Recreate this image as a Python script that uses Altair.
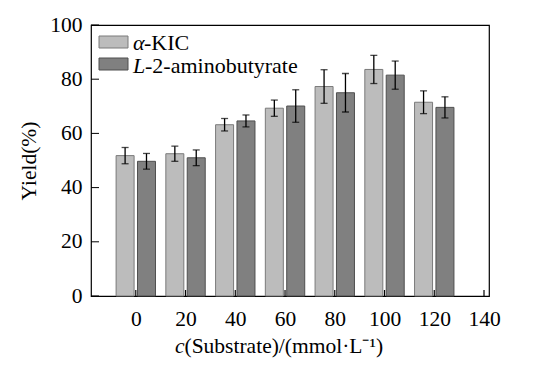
import altair as alt
import pandas as pd

conc = [0, 20, 40, 60, 80, 100, 120]
kic = [51.8, 52.5, 63.2, 69.3, 77.3, 83.6, 71.5]
kic_err = [3.0, 2.8, 2.3, 3.0, 6.2, 5.2, 4.2]
abu = [49.7, 51.0, 64.6, 70.1, 75.0, 81.5, 69.6]
abu_err = [2.9, 2.9, 2.2, 6.0, 7.1, 5.2, 3.9]
series_names = ["α-KIC", "L-2-aminobutyrate"]
x_ticks = [0, 20, 40, 60, 80, 100, 120, 140]
y_ticks = [0, 20, 40, 60, 80, 100]

rows = []
for c, v, e in zip(conc, kic, kic_err):
    rows.append({"conc": c, "series": series_names[0], "value": v, "err": e, "off": -4.3})
for c, v, e in zip(conc, abu, abu_err):
    rows.append({"conc": c, "series": series_names[1], "value": v, "err": e, "off": 4.3})
df = pd.DataFrame(rows)

W, H = 398, 271
FONT = "Liberation Serif"
FS = 21.5

xscale = alt.Scale(domain=[-16, 140], nice=False, zero=False)
yscale = alt.Scale(domain=[0, 100], nice=False)
fill_scale = alt.Scale(domain=series_names, range=["#bcbcbc", "#808080"])
stroke_scale = alt.Scale(domain=series_names, range=["#7a7a7a", "#4f4f4f"])

base = alt.Chart(df).transform_calculate(
    xp="datum.conc + datum.off",
    lo="datum.value - datum.err",
    hi="datum.value + datum.err",
)

bars = base.mark_bar(size=18, strokeWidth=1).encode(
    x=alt.X("xp:Q", scale=xscale,
            axis=alt.Axis(values=x_ticks, title=None, ticks=False, domain=False, grid=False,
                          labelFont=FONT, labelFontSize=FS, labelColor="black",
                          labelPadding=12, format="d")),
    y=alt.Y("value:Q", scale=yscale,
            axis=alt.Axis(values=y_ticks, title="Yield(%)", ticks=False, domain=False, grid=False,
                          labelFont=FONT, labelFontSize=FS, labelColor="black",
                          labelPadding=9, titleFont=FONT, titleFontSize=FS,
                          titleFontWeight="normal", titleColor="black", titlePadding=9)),
    fill=alt.Fill("series:N", scale=fill_scale, legend=None),
    stroke=alt.Stroke("series:N", scale=stroke_scale, legend=None),
)

errs = base.mark_errorbar(ticks={"size": 7, "thickness": 1.3}, color="black", thickness=1.3).encode(
    x=alt.X("xp:Q", scale=xscale),
    y=alt.Y("lo:Q", scale=yscale, title="Yield(%)"),
    y2="hi:Q",
)

ytick_df = pd.DataFrame({"v": y_ticks})
yticks = alt.Chart(ytick_df).mark_rule(color="black", strokeWidth=1).encode(
    y=alt.Y("v:Q", scale=yscale),
    x=alt.value(0),
    x2=alt.value(8),
)
xtick_df = pd.DataFrame({"v": x_ticks})
xticks = alt.Chart(xtick_df).mark_rule(color="black", strokeWidth=1.2).encode(
    x=alt.X("v:Q", scale=xscale),
    y=alt.value(H - 6),
    y2=alt.value(H),
)

# legend
leg_df = pd.DataFrame({"series": series_names, "ly": [11, 33], "ty": [25, 47.5],
                       "ital": ["α", "L"], "rest": ["-KIC", "-2-aminobutyrate"],
                       "rx": [53, 54]})
leg_rect = alt.Chart(leg_df).mark_rect(strokeWidth=1).encode(
    x=alt.value(8), x2=alt.value(37),
    y=alt.Y("ly:Q", scale=None), y2=alt.Y2("ly2:Q"),
    fill=alt.Fill("series:N", scale=fill_scale, legend=None),
    stroke=alt.Stroke("series:N", scale=stroke_scale, legend=None),
).transform_calculate(ly2="datum.ly + 12")
leg_ital = alt.Chart(leg_df).mark_text(font=FONT, fontSize=22, fontStyle="italic",
                                       align="left", baseline="alphabetic", color="black").encode(
    x=alt.value(42), y=alt.Y("ty:Q", scale=None), text="ital:N")
leg_rest = alt.Chart(leg_df).mark_text(font=FONT, fontSize=22,
                                       align="left", baseline="alphabetic", color="black").encode(
    x=alt.X("rx:Q", scale=None), y=alt.Y("ty:Q", scale=None), text="rest:N")

# x title with italic c
xt_df = pd.DataFrame({"a": ["c"], "b": ["(Substrate)/(mmol·L⁻¹)"]})
xt1 = alt.Chart(xt_df).mark_text(font=FONT, fontSize=FS, fontStyle="italic", align="left",
                                 baseline="alphabetic", color="black").encode(
    x=alt.value(84), y=alt.value(328), text="a:N")
xt2 = alt.Chart(xt_df).mark_text(font=FONT, fontSize=FS, align="left",
                                 baseline="alphabetic", color="black").encode(
    x=alt.value(93.5), y=alt.value(328), text="b:N")

chart = alt.layer(bars, errs, yticks, xticks, leg_rect, leg_ital, leg_rest, xt1, xt2).properties(
    width=W, height=H,
    autosize=alt.AutoSizeParams(type="none"),
    padding={"left": 83, "top": 17, "right": 40, "bottom": 68},
    background="white",
).configure_view(stroke="black", strokeWidth=1.2)

chart.save("out.html", embed_options={"renderer": "svg", "actions": False})
